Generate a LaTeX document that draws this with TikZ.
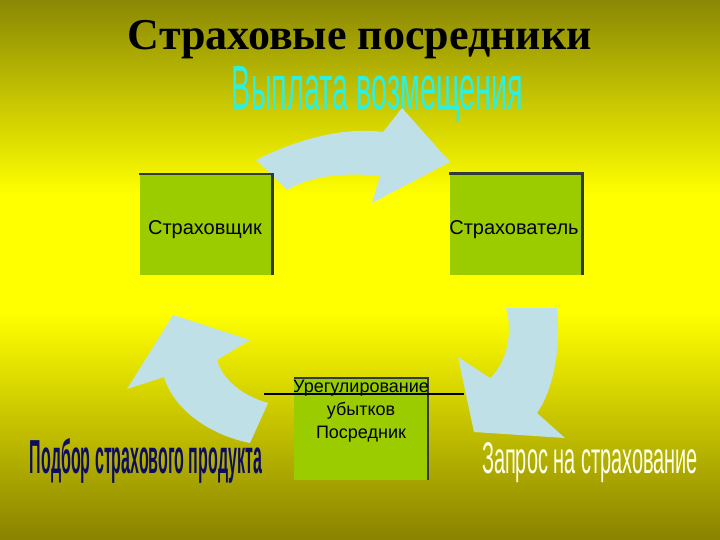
\documentclass[tikz,border=0pt]{standalone}
\usepackage{fontspec}
\setmainfont{Liberation Sans}
\newfontfamily\titlefont{Liberation Serif}
\usepackage{graphicx}
\definecolor{bgtop}{RGB}{138,136,4}
\definecolor{bgmid}{RGB}{255,255,0}
\definecolor{bgbot}{RGB}{136,130,0}
\definecolor{boxfill}{RGB}{155,204,0}
\definecolor{boxline}{RGB}{50,58,58}
\definecolor{arrowfill}{RGB}{192,224,232}
\definecolor{cyantext}{RGB}{45,240,225}
\definecolor{navytext}{RGB}{12,12,100}
\definecolor{creamtext}{RGB}{255,255,235}
\pgfdeclareverticalshading{bgshade}{100bp}{color(0bp)=(bgbot); color(25bp)=(bgbot); color(46bp)=(bgmid); color(57bp)=(bgmid); color(75bp)=(bgtop); color(100bp)=(bgtop)}
\tikzset{
  boxnode/.style={fill=boxfill, draw=none, minimum width=133pt, minimum height=101pt, inner sep=0pt},
  boxedge/.style={draw=boxline, line width=2.5pt},
  boxtext/.style={font=\fontsize{20}{24}\selectfont, inner sep=0pt, text=black},
  midtext/.style={font=\fontsize{18}{23}\selectfont, inner sep=0pt, text=black, align=center},
  bigarrow/.style={fill=arrowfill, draw=none},
  wordart/.style={inner sep=0pt}
}
\begin{document}
\begin{tikzpicture}[x=1pt,y=-1pt]
\useasboundingbox (0,0) rectangle (720,540);
\shade[shading=bgshade] (0,0) rectangle (720,540);

% title
\node[wordart, anchor=base] (title) at (360,50) {\resizebox{464pt}{!}{\titlefont\bfseries Страховые посредники}};
\node[wordart, anchor=base, text=cyantext] (pay) at (377.5,110) {\resizebox{291pt}{43pt}{Выплата возмещения}};

% curved block arrows
\path[bigarrow] (256,160) .. controls (300,138) and (345,127) .. (383,132)
  -- (402,108) -- (450,162) -- (372,203) -- (380,176)
  .. controls (345,172) and (310,176) .. (287,190) -- cycle;
\path[bigarrow] (557,308) .. controls (561,350) and (553,390) .. (537,413)
  -- (565,438) -- (474,432) -- (458,357) -- (490,378)
  .. controls (505,365) and (514,335) .. (506,308) -- cycle;
\path[bigarrow] (173,315) -- (250,340) -- (217,360)
  .. controls (222,378) and (240,395) .. (268,403)
  -- (250,443)
  .. controls (210,435) and (174,410) .. (164,377)
  -- (127,389) -- cycle;

% boxes
\node[boxnode] (b1) at (206,224.5) {};
\draw[boxedge] (b1.north west) -- (b1.north east) -- (b1.south east);
\node[boxtext, anchor=base] (t1) at (205,234) {Страховщик};

\node[boxnode] (b2) at (516,224) {};
\draw[boxedge] (b2.north west) -- (b2.north east) -- (b2.south east);
\node[boxtext, anchor=base] (t2) at (514,234) {Страхователь};

\node[boxnode, minimum height=102pt, minimum width=134pt] (b3) at (361,429) {};
\draw[boxedge] (b3.north west) -- (b3.north east) -- (b3.south east);
\node[midtext, anchor=north] (t3) at (361,379.5) {Урегулирование\\убытков\\Посредник};

\coordinate (l1) at (264,394);
\coordinate (l2) at (464,394);
\draw[line width=1.3pt, black] (l1) -- (l2);

% bottom labels
\node[wordart, anchor=base, text=navytext] (pick) at (146,473) {\resizebox{232pt}{35pt}{\bfseries Подбор страхового продукта}};
\node[wordart, anchor=base, text=creamtext] (req) at (590,473) {\resizebox{216pt}{31pt}{Запрос на страхование}};
\end{tikzpicture}
\end{document}
